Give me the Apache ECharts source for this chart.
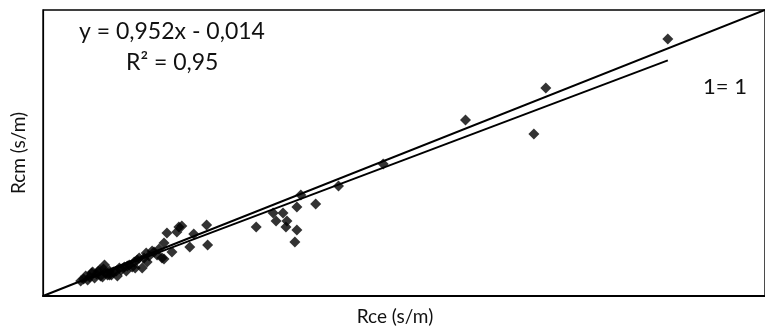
<!DOCTYPE html>
<html>
<head>
<meta charset="utf-8">
<script src="https://cdn.jsdelivr.net/npm/echarts@6/dist/echarts.min.js"></script>
<style>
  html, body { margin: 0; padding: 0; background: #fff; }
  #chart { width: 765px; height: 331px; }
</style>
</head>
<body>
<div id="chart"></div>
<script>
// measured points (Rce, Rcm), arbitrary units, axes 0..100
const rce = [
  5.22, 5.63, 5.91, 6.18, 6.46, 6.73, 7.14, 7.42, 7.69, 7.97, 8.24, 8.38, 8.65, 8.93, 9.20,
  9.48, 9.75, 10.16, 10.58, 10.85, 11.26, 11.68, 11.95, 12.36, 12.64, 13.05, 13.32, 13.74, 14.01, 14.29,
  14.70, 15.38, 15.80, 16.48, 16.76, 17.17, 17.86, 18.54, 18.82, 19.23, 20.33, 20.88, 22.66, 22.80, 16.76,
  15.11, 8.52, 7.83, 6.87, 9.20, 16.07, 14.42, 10.30, 11.54, 12.77,
  29.53, 31.87, 32.28, 33.24, 33.79, 33.65, 35.16, 35.16, 34.89, 35.71, 37.77, 40.93,
  47.12, 58.52, 69.64, 67.99, 86.54
];
const rcm = [
  5.24, 5.94, 6.99, 5.59, 6.64, 8.04, 6.29, 7.69, 8.74, 6.99, 6.64, 9.44, 8.04, 7.34, 8.74,
  7.34, 8.39, 8.74, 9.79, 9.09, 10.14, 10.49, 10.84, 10.14, 11.89, 12.59, 13.29, 9.79, 13.29, 15.03,
  13.99, 15.38, 14.34, 13.29, 18.53, 22.03, 15.38, 22.38, 24.13, 24.48, 17.13, 21.68, 24.83, 17.83, 12.94,
  15.73, 10.84, 9.09, 8.39, 7.34, 16.43, 11.89, 6.99, 8.74, 9.79,
  24.13, 29.02, 26.22, 29.02, 26.22, 24.13, 31.12, 23.08, 18.88, 35.31, 32.17, 38.46,
  46.15, 61.54, 72.73, 56.64, 89.86
];
const slope = 0.952;
const intercept = -0.014;
const axisMax = 100;
const eqLabel = 'y = 0,952x - 0,014';
const r2Label = 'R² = 0,95';
const oneLabel = '1= 1';

const points = rce.map((x, i) => [x, rcm[i]]);
const xMin = Math.min(...rce);
const xMax = Math.max(...rce);
const fit = [[xMin, slope * xMin + intercept], [xMax, slope * xMax + intercept]];
const identity = [[0, 0], [axisMax, axisMax]];

const font = 'Lato, "Open Sans", sans-serif';
const chart = echarts.init(document.getElementById('chart'));
chart.setOption({
  animation: false,
  grid: { left: 43, top: 10, right: -6, bottom: 35, show: true, borderColor: '#000', borderWidth: 1.4 },
  xAxis: {
    type: 'value', min: 0, max: axisMax,
    name: 'Rce (s/m)', nameLocation: 'middle', nameGap: 11,
    nameTextStyle: { fontFamily: font, fontSize: 19, color: '#111', padding: [0, 18, 0, 0] },
    axisLine: { lineStyle: { color: '#000', width: 2 } },
    axisTick: { show: false }, axisLabel: { show: false }, splitLine: { show: false }
  },
  yAxis: {
    type: 'value', min: 0, max: axisMax,
    name: 'Rcm (s/m)', nameLocation: 'middle', nameGap: 15,
    nameTextStyle: { fontFamily: font, fontSize: 19, color: '#111' },
    axisLine: { lineStyle: { color: '#000', width: 1.2 } },
    axisTick: { show: false }, axisLabel: { show: false }, splitLine: { show: false }
  },
  series: [
    { type: 'line', data: identity, symbol: 'none', lineStyle: { color: '#000', width: 2 }, z: 2 },
    { type: 'line', data: fit, symbol: 'none', lineStyle: { color: '#000', width: 2 }, z: 2 },
    { type: 'scatter', data: points, symbol: 'diamond', symbolSize: 11, itemStyle: { color: '#000' }, z: 3 }
  ],
  graphic: [
    { type: 'text', x: 79, y: 32, style: { text: eqLabel, font: '23px ' + font, fill: '#111', verticalAlign: 'middle' } },
    { type: 'text', x: 126, y: 63, style: { text: r2Label, font: '23px ' + font, fill: '#111', verticalAlign: 'middle' } },
    { type: 'text', x: 703, y: 87, style: { text: oneLabel, font: '22px ' + font, fill: '#111', verticalAlign: 'middle' } }
  ]
});
</script>
</body>
</html>
